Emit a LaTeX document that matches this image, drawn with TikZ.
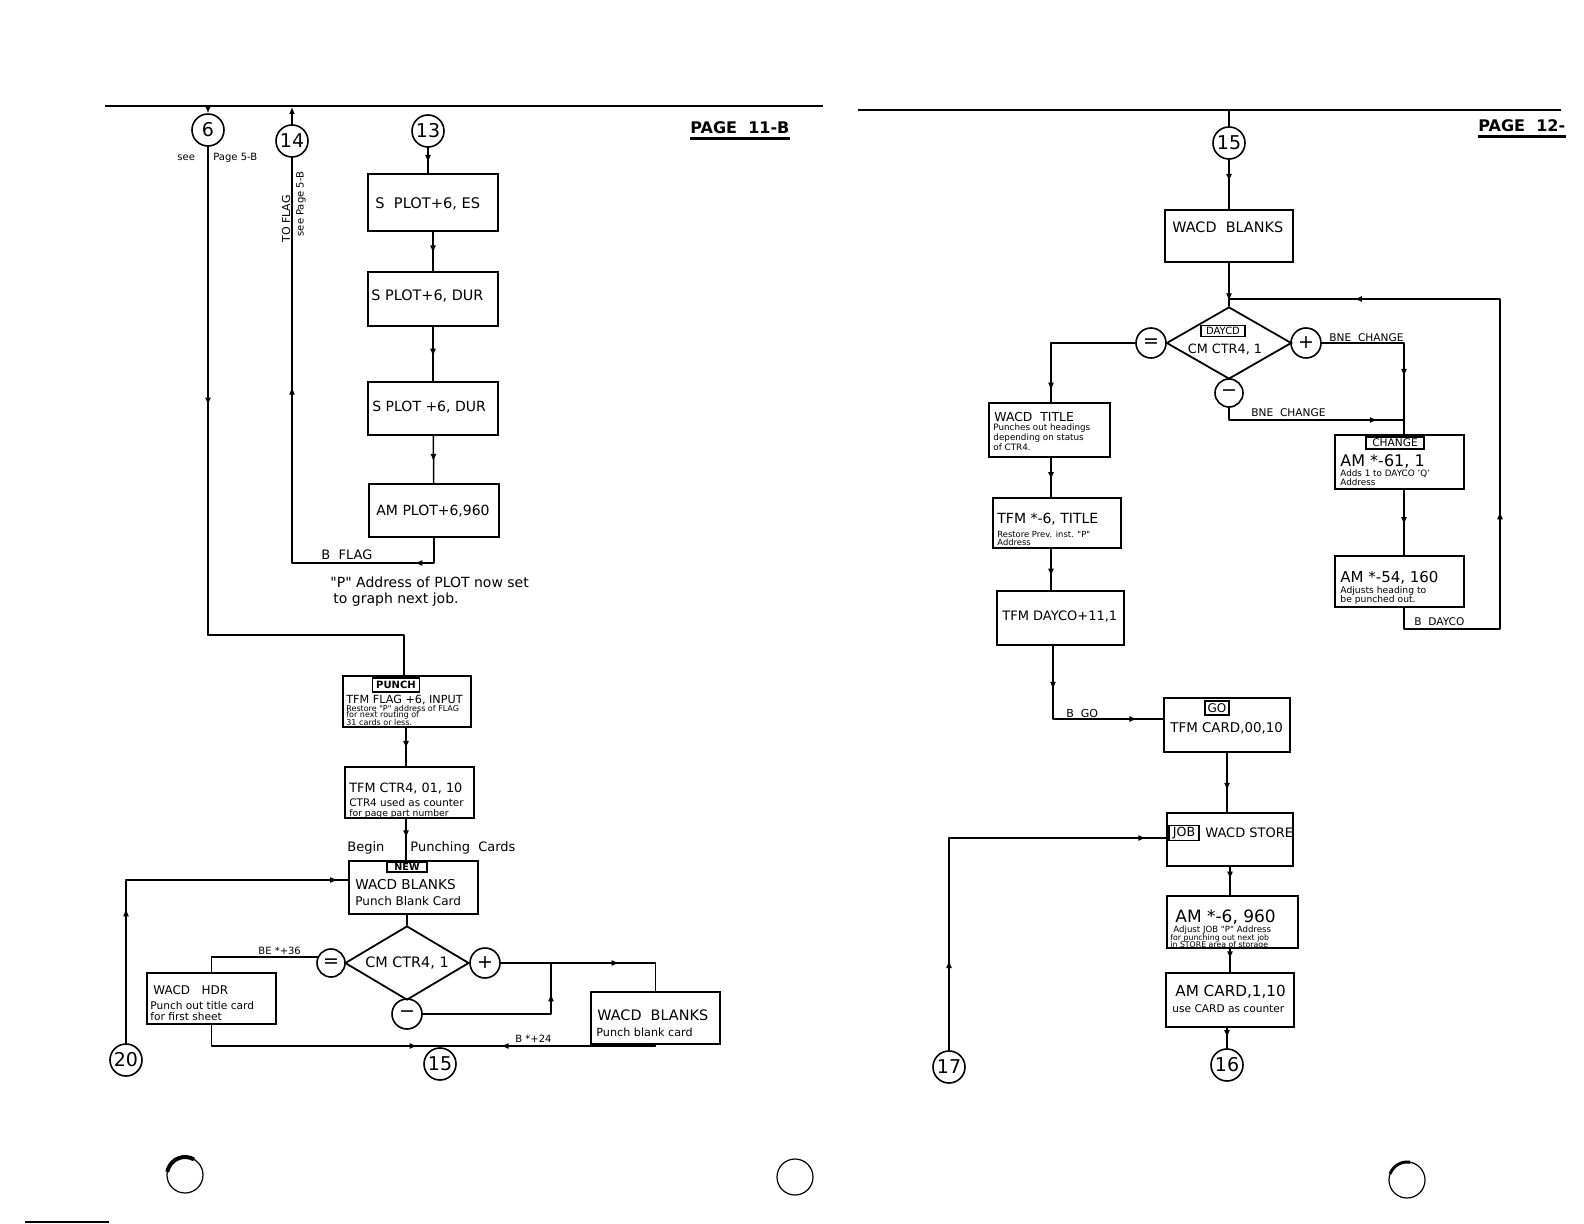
\documentclass[tikz,border=0pt]{standalone}
\usepackage{fontspec}
\setmainfont{DejaVu Sans}
\newfontfamily\hand{DejaVu Sans}
\usetikzlibrary{arrows.meta,decorations.markings,shapes.geometric}
\newcommand{\myfs}[1]{\fontsize{#1}{#1}\selectfont}
\newcommand{\qq}{{\hand"}}
\newcommand{\pbox}[5]{\node[bx, minimum width={(#4-#2)*0.5pt}, minimum height={(#5-#3)*0.5pt}] (#1) at ({(#2+#4)/2},{(#3+#5)/2}) {};}
\begin{document}
\begin{tikzpicture}[x=0.5pt,y=-0.5pt,
  ln/.style={line width=0.75pt, line cap=round, line join=round},
  bx/.style={draw, line width=0.9pt, inner sep=0pt},
  lb/.style={draw, line width=0.7pt, inner sep=0.5pt},
  cir/.style={draw, circle, line width=0.8pt, inner sep=0pt, minimum size=#1, font={\myfs{9.5}}},
  cir/.default=16pt,
  tx/.style={inner sep=0pt, anchor=west},
  am/.style={postaction={decorate, decoration={markings, mark=at position #1 with {\arrow{Latex[length=4pt,width=3pt]}}}}},
  dia/.style={draw, diamond, line width=0.9pt, inner sep=0pt},
  tip/.style={-{Latex[length=3.5pt,width=3pt]}}
]
\fill[white] (0,0) rectangle (1584,1224);
\useasboundingbox (0,0) rectangle (1584,1224);

% ================= LEFT PAGE =================
\draw[line width=1.4pt] (105,106) -- (823,106);
\node[font={\bfseries\myfs{8}}, anchor=west, inner sep=0pt] (pg11) at (690,128) {PAGE\ \ 11-B};
\draw[line width=1.2pt] ([yshift=-2pt]pg11.south west) -- ([yshift=-2pt]pg11.south east);

% connector circles
\node[cir] (c6) at (208,130) {6};
\node[cir] (c14) at (292,141) {14};
\node[cir] (c13) at (428,131) {13};
\coordinate (t6) at (208,107);
\coordinate (t14) at (292,107);

\node[tx, font={\myfs{5}}] (see6) at (177,158) {see};
\node[tx, font={\myfs{5}}] (pg6) at (213,158) {Page 5-B};
\node[font={\myfs{5.5}}, rotate=90, inner sep=0pt] (toflag) at (286,219) {TO FLAG};
\node[font={\myfs{5}}, rotate=90, inner sep=0pt] (seepg) at (301,204) {see Page 5-B};

% main column boxes
\pbox{b1}{368}{174}{498}{231}
\pbox{b2}{368}{272}{498}{326}
\pbox{b3}{368}{382}{498}{435}
\pbox{b4}{369}{484}{499}{537}
\node[tx, font={\myfs{7.3}}] (t1) at (375,204) {S\ \ PLOT+6, ES};
\node[tx, font={\myfs{7.2}}] (t2) at (371,296) {S\ PLOT+6, DUR};
\node[tx, font={\myfs{7}}] (t3) at (372,407) {S PLOT +6, DUR};
\node[tx, font={\myfs{7}}] (t4) at (376,511) {AM PLOT+6,960};

\node[tx, font={\myfs{6.5}}] (bflag) at (321,555) {B\ \ FLAG};
\node[tx, font={\myfs{7}}] (pn1) at (330,582) {\qq P\qq\ Address of PLOT now set};
\node[tx, font={\myfs{7}}] (pn2) at (333,600) {to graph next job.};

% PUNCH box
\pbox{punch}{343}{676}{471}{727}
\node[lb, font={\bfseries\myfs{5}}, minimum width=23.5pt, minimum height=7pt] (lpunch) at (396,685) {PUNCH};
\node[tx, font={\myfs{5.6}}] (tp1) at (346,700) {TFM FLAG +6, INPUT};
\node[tx, font={\myfs{4}}] (tp2) at (346,708.5) {Restore \qq P\qq\ address of FLAG};
\node[tx, font={\myfs{4}}] (tp3) at (346,715.5) {for next routing of};
\node[tx, font={\myfs{4}}] (tp4) at (346,722.5) {31 cards or less.};

% CTR4 box
\pbox{ctr}{345}{767}{474}{818}
\node[tx, font={\myfs{6.4}}] (tc1) at (349,788) {TFM CTR4, 01, 10};
\node[tx, font={\myfs{5.2}}] (tc2) at (349,803) {CTR4 used as counter};
\node[tx, font={\myfs{4.6}}] (tc3) at (349,813.5) {for page part number};

\node[tx, font={\myfs{6.5}}] (begin) at (347,848) {Begin};
\node[tx, font={\myfs{6.5}}] (punching) at (410,848) {Punching\ \ Cards};

% NEW box
\pbox{new}{349}{861}{478}{914}
\node[lb, font={\bfseries\myfs{4.8}}, minimum width=20pt, minimum height=5pt] (lnew) at (407,867) {NEW};
\node[tx, font={\myfs{6.8}}] (tn1) at (355,885) {WACD BLANKS};
\node[tx, font={\myfs{6}}] (tn2) at (355,901) {Punch Blank Card};

% decision
\node[dia, minimum width=62pt, minimum height=37pt] (d1) at (407,963) {};
\node[font={\myfs{7.2}}, inner sep=0pt] (td1) at (407,963) {CM CTR4, 1};
\node[cir=14pt] (eq1) at (331,963) {=};
\node[cir=15pt] (plus1) at (485,963) {+};
\node[cir=15pt] (minus1) at (407,1014) {−};
\node[tx, font={\myfs{5}}] (be36) at (258,951) {BE *+36};

% WACD HDR
\pbox{hdr}{147}{973}{276}{1024}
\node[tx, font={\myfs{6}}] (th1) at (153,990) {WACD\ \ \ HDR};
\node[tx, font={\myfs{5.3}}] (th2) at (150,1006) {Punch out title card};
\node[tx, font={\myfs{5.3}}] (th3) at (150,1017) {for first sheet};

% WACD BLANKS right
\pbox{wb}{591}{992}{720}{1044}
\node[tx, font={\myfs{7.2}}] (tw1) at (597,1015) {WACD\ \ BLANKS};
\node[tx, font={\myfs{5.6}}] (tw2) at (596,1032) {Punch blank card};
\node[tx, font={\myfs{5}}] (b24) at (515,1039) {B *+24};

\node[cir] (c15L) at (440,1064) {15};
\node[cir] (c20) at (126,1060) {20};

% left connectors
\coordinate (k6a) at (208,635);
\coordinate (k6b) at (404,635);
\coordinate (colL) at (406,0);
\coordinate (kf) at (292,563);
\coordinate (kb) at (440,1046);
\coordinate (km) at (551,963);
\coordinate (k20) at (126,880);

\draw[ln, tip] (t6) -- (c6);
\draw[ln, tip] (c14) -- (t14);
\draw[ln, am=0.53] (c6) -- (k6a);
\draw[ln] (k6a) -- (k6b) -- (k6b |- punch.north);
\draw[ln, am=0.6] (c13) -- (c13 |- b1.north);
\draw[ln, am=0.55] (b1) -- (b2);
\draw[ln, am=0.55] (b2) -- (b3);
\draw[ln, am=0.55] (b3) -- (b4);
\draw[ln, am=0.078, am=0.6] (b4.south) -- (b4.south |- kf) -- (kf) -- (c14);
\draw[ln, am=0.55] (punch.south -| colL) -- (ctr.north -| colL);
\draw[ln, am=0.47] (ctr.south -| colL) -- (new.north -| colL);
\draw[ln] (d1.north |- new.south) -- (d1.north);
\draw[ln] (eq1.155) -- (eq1.155 -| hdr.north) -- (hdr.north);
\draw[ln, am=0.91] (hdr.south) -- (hdr.south |- kb) -- (kb);
\draw[ln, am=0.72] (wb.south) -- (wb.south |- kb) -- (kb);
\draw[ln] (kb) -- (c15L);
\draw[ln, am=0.65] (plus1.east) -- (plus1.east -| wb.north) -- (wb.north);
\draw[ln, am=0.83] (minus1.east) -- (minus1.east -| km) -- (km);
\draw[ln, am=0.35, am=0.974] (c20) -- (k20) -- (k20 -| new.west);

% ================= RIGHT PAGE =================
\draw[line width=1.4pt] (858,110) -- (1561,110);
\node[font={\bfseries\myfs{8}}, anchor=west, inner sep=0pt] (pg12) at (1478,126) {PAGE\ \ 12-};
\draw[line width=1.2pt] ([yshift=-2pt]pg12.south west) -- ([yshift=-2pt]pg12.south east);

\coordinate (t15r) at (1229,111);
\node[cir] (c15r) at (1229,143) {15};
\pbox{wb2}{1165}{210}{1293}{262}
\node[tx, font={\myfs{7.2}}] (tb2) at (1172,227) {WACD\ \ BLANKS};
\coordinate (J) at (1229,299);

\node[dia, minimum width=62.5pt, minimum height=36pt] (d2) at (1229,343) {};
\node[lb, font={\myfs{5}}, minimum width=22pt, minimum height=5.5pt] (ldaycd) at (1223,331) {DAYCD};
\node[font={\myfs{6.4}}, inner sep=0pt] (td2) at (1225,349) {CM CTR4, 1};
\node[cir=15pt] (eq2) at (1151,343) {=};
\node[cir=15pt] (plus2) at (1306,343) {+};
\node[cir=14pt] (minus2) at (1229,393) {−};

\node[tx, font={\myfs{5.3}}] (bne1) at (1329,338) {BNE\ \ CHANGE};
\node[tx, font={\myfs{5.3}}] (bne2) at (1251,413) {BNE\ \ CHANGE};

% left column
\pbox{title}{989}{403}{1110}{457}
\node[tx, font={\myfs{6.2}}] (tt1) at (994,417) {WACD\ \ TITLE};
\node[tx, font={\myfs{4.4}}] (tt2) at (993,428) {Punches out headings};
\node[tx, font={\myfs{4.4}}] (tt3) at (993,438) {depending on status};
\node[tx, font={\myfs{4.4}}] (tt4) at (993,447) {of CTR4.};

\pbox{tfm1}{993}{498}{1121}{548}
\node[tx, font={\myfs{7}}] (tf1) at (997,519) {TFM *-6, TITLE};
\node[tx, font={\myfs{4.2}}] (tf2) at (997,534) {Restore Prev. inst. \qq P\qq};
\node[tx, font={\myfs{4.2}}] (tf3) at (997,542) {Address};

\pbox{tfm2}{997}{591}{1124}{645}
\node[tx, font={\myfs{6.5}}] (tg1) at (1002,616) {TFM DAYCO+11,1};

\node[tx, font={\myfs{5.5}}] (bgo) at (1066,713) {B\ \ GO};

\pbox{go}{1164}{698}{1290}{752}
\node[lb, font={\myfs{6}}, minimum width=12pt, minimum height=7pt] (lgo) at (1217,708) {GO};
\node[tx, font={\myfs{6.7}}] (tgo) at (1170,728) {TFM CARD,00,10};

\pbox{job}{1167}{813}{1293}{866}
\node[lb, font={\myfs{6.3}}, minimum width=15pt, minimum height=7.5pt] (ljob) at (1184,833) {JOB};
\node[tx, font={\myfs{6.5}}] (tjob) at (1205,833) {WACD STORE};

\pbox{am6}{1167}{896}{1298}{948}
\node[tx, font={\myfs{8.5}}] (ta1) at (1175,917) {AM *-6, 960};
\node[tx, font={\myfs{4.3}}] (ta2) at (1173,930) {Adjust JOB \qq P\qq\ Address};
\node[tx, font={\myfs{3.9}}] (ta3) at (1170,938) {for punching out next job};
\node[tx, font={\myfs{3.9}}] (ta4) at (1170,945) {in STORE area of storage};

\pbox{amc}{1166}{973}{1294}{1027}
\node[tx, font={\myfs{7.6}}] (tm1) at (1175,992) {AM CARD,1,10};
\node[tx, font={\myfs{5.3}}] (tm2) at (1172,1009) {use CARD as counter};

\node[cir] (c16) at (1227,1065) {16};
\node[cir] (c17) at (949,1067) {17};

% right column
\pbox{change}{1335}{435}{1464}{489}
\node[lb, font={\myfs{5.3}}, minimum width=29pt, minimum height=6pt] (lchange) at (1395,443) {CHANGE};
\node[tx, font={\myfs{8}}] (tch1) at (1340,461) {AM *-61, 1};
\node[tx, font={\myfs{4.4}}] (tch2) at (1340,474) {Adds 1 to DAYCO 'Q'};
\node[tx, font={\myfs{4.4}}] (tch3) at (1340,482) {Address};

\pbox{am54}{1335}{556}{1464}{607}
\node[tx, font={\myfs{7.5}}] (t541) at (1340,578) {AM *-54, 160};
\node[tx, font={\myfs{4.6}}] (t542) at (1340,591) {Adjusts heading to};
\node[tx, font={\myfs{4.6}}] (t543) at (1340,600) {be punched out.};
\node[tx, font={\myfs{5.3}}] (bdayco) at (1414,622) {B\ \ DAYCO};

% right connectors
\coordinate (colR) at (1051,0);
\coordinate (kgo) at (1053,719);
\coordinate (k17) at (949,838);
\coordinate (kr) at (1404,343);
\coordinate (kl) at (1229,420);
\coordinate (kd1) at (1404,629);
\coordinate (kd2) at (1500,629);
\coordinate (kd3) at (1500,299);

\draw[ln] (t15r) -- (c15r);
\draw[ln, am=0.45] (c15r) -- (wb2);
\draw[ln, am=0.89] (wb2) -- (d2);
\draw[ln, am=0.92] (eq2.west) -- (eq2.west -| colR) -- (colR |- title.north);
\draw[ln, am=0.57] (colR |- title.south) -- (colR |- tfm1.north);
\draw[ln, am=0.67] (colR |- tfm1.south) -- (colR |- tfm2.north);
\draw[ln, am=0.24, am=0.86] (kgo |- tfm2.south) -- (kgo) -- (kgo -| go.west);
\draw[ln, am=0.64] (go.south) -- (go.south |- job.north);
\draw[ln, am=0.45] (job.south) -- (job.south |- am6.north);
\draw[ln, am=0.45] (amc.north |- am6.south) -- (amc.north);
\draw[ln, am=0.5] (c16 |- amc.south) -- (c16);
\draw[ln, am=0.21, am=0.954] (c17) -- (k17) -- (k17 -| job.west);
\draw[ln, am=0.67] (plus2) -- (kr) -- (kr |- change.north);
\draw[ln, am=0.86] (minus2) -- (kl) -- (kl -| kr);
\draw[ln, am=0.54] (kr |- change.south) -- (kr |- am54.north);
\draw[ln, am=0.327, am=0.826] (kr |- am54.south) -- (kd1) -- (kd2) -- (kd3) -- (J);

% ================= page marks =================
\draw[line width=0.6pt] (185,1175) circle[radius=18];
\draw[line width=2pt] (185,1175) ++(-170:18) arc[start angle=-170, end angle=-60, radius=18];
\draw[line width=0.6pt] (795,1177) circle[radius=18];
\draw[line width=0.6pt] (1407,1180) circle[radius=18];
\draw[line width=1.5pt] (1407,1180) ++(-160:18) arc[start angle=-160, end angle=-80, radius=18];
\draw[line width=1pt] (25,1222) -- (109,1222);
\end{tikzpicture}
\end{document}
